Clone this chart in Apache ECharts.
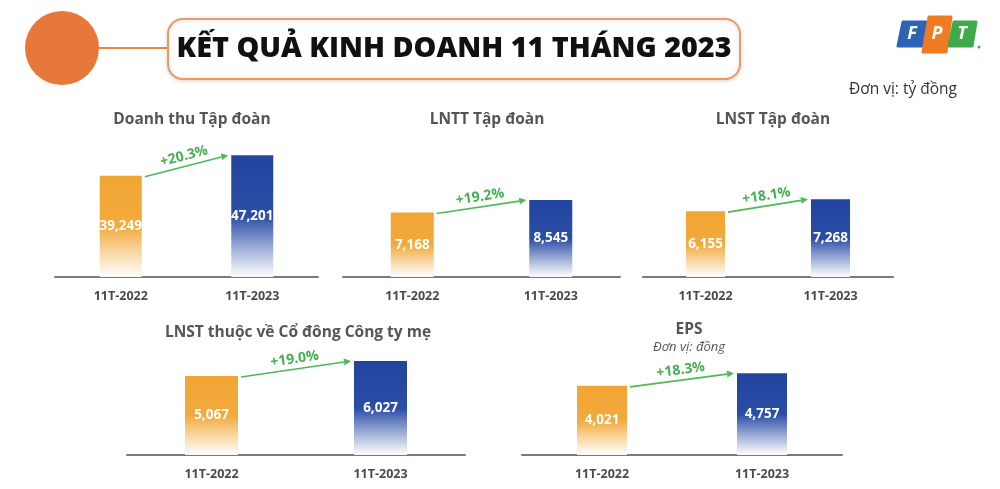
<!DOCTYPE html>
<html>
<head>
<meta charset="utf-8">
<script src="https://cdn.jsdelivr.net/npm/echarts@6/dist/echarts.min.js"></script>
<style>
html,body{margin:0;padding:0;background:#fff;}
#c{width:1000px;height:489px;}
</style>
</head>
<body>
<div id="c"></div>
<script>
// ---- DATA ----
const categories = ['11T-2022', '11T-2023'];
const panelTitles = ['Doanh thu Tập đoàn', 'LNTT Tập đoàn', 'LNST Tập đoàn', 'LNST thuộc về Cổ đông Công ty mẹ', 'EPS'];
const revenue = [39249, 47201];
const profitBeforeTax = [7168, 8545];
const profitAfterTax = [6155, 7268];
const profitParent = [5067, 6027];
const eps = [4021, 4757];
const growthLabels = ['+20.3%', '+19.2%', '+18.1%', '+19.0%', '+18.3%'];
const mainTitle = 'KẾT QUẢ KINH DOANH 11 THÁNG 2023';
const unitText = 'Đơn vị: tỷ đồng';
const epsUnitText = 'Đơn vị: đồng';

// ---- LAYOUT ----
const seriesValues = [revenue, profitBeforeTax, profitAfterTax, profitParent, eps];
const panels = [
  {left: 55, width: 263, axisY: 277, yMax: 50000, pxPerUnit: 0.00258, barWidth: 42, titleX: 187, titleY: 107},
  {left: 343, width: 277, axisY: 277, yMax: 10000, pxPerUnit: 0.0090, barWidth: 43, titleX: 482, titleY: 107},
  {left: 643, width: 250, axisY: 277, yMax: 8000, pxPerUnit: 0.0107, barWidth: 39, titleX: 768, titleY: 107},
  {left: 127, width: 338, axisY: 455, yMax: 6200, pxPerUnit: 0.0156, barWidth: 53, titleX: 293, titleY: 320},
  {left: 522, width: 320, axisY: 455, yMax: 5000, pxPerUnit: 0.0172, barWidth: 50, titleX: 684, titleY: 317}
];

const orangeGrad = new echarts.graphic.LinearGradient(0, 0, 0, 1, [
  {offset: 0, color: '#F1A533'}, {offset: 0.5, color: '#F2AA3C'},
  {offset: 1, color: 'rgba(255,255,255,0.95)'}]);
const blueGrad = new echarts.graphic.LinearGradient(0, 0, 0, 1, [
  {offset: 0, color: '#21449E'}, {offset: 0.5, color: '#2A4DA6'},
  {offset: 1, color: 'rgba(255,255,255,0.95)'}]);

const grids = [], xAxes = [], yAxes = [], series = [], titles = [];
panels.forEach((p, i) => {
  const h = p.yMax * p.pxPerUnit;
  grids.push({left: p.left, width: p.width, top: p.axisY - h, height: h});
  xAxes.push({
    type: 'category', gridIndex: i, data: categories,
    axisLine: {lineStyle: {color: '#7a7a7a', width: 2}},
    axisTick: {show: false},
    axisLabel: {color: '#4a4a4a', fontWeight: 'bold', fontSize: 12.5, margin: 13, fontFamily: 'Open Sans'}
  });
  yAxes.push({type: 'value', gridIndex: i, min: 0, max: p.yMax, show: false, splitLine: {show: false}});
  const vals = seriesValues[i];
  series.push({
    type: 'bar', xAxisIndex: i, yAxisIndex: i, barWidth: p.barWidth,
    data: vals.map((v, k) => ({value: v, itemStyle: {color: k === 0 ? orangeGrad : blueGrad}})),
    label: {show: true, position: 'inside', color: '#fff', fontWeight: 'bold', fontSize: 13.5,
      fontFamily: 'Open Sans', formatter: d => d.value.toLocaleString('en-US')}
  });
  series.push({
    type: 'custom', xAxisIndex: i, yAxisIndex: i, clip: false, silent: true,
    data: [[vals[0], vals[1]]],
    renderItem: (params, api) => {
      const a = api.coord([0, api.value(0)]);
      const b = api.coord([1, api.value(1)]);
      const hb = p.barWidth / 2;
      const s = [a[0] + hb + 3, a[1] + 1];
      const e = [b[0] - hb - 3, b[1]];
      const ang = Math.atan2(e[1] - s[1], e[0] - s[0]);
      const L = 7, W = 3.5;
      const bx = e[0] - L * Math.cos(ang), by = e[1] - L * Math.sin(ang);
      const nx = -Math.sin(ang), ny = Math.cos(ang);
      const mx = (s[0] + e[0]) / 2, my = (s[1] + e[1]) / 2;
      return {
        type: 'group',
        children: [
          {type: 'line', shape: {x1: s[0], y1: s[1], x2: bx, y2: by},
            style: {stroke: '#4DB95A', lineWidth: 1.6}},
          {type: 'polygon', shape: {points: [e, [bx + nx * W, by + ny * W], [bx - nx * W, by - ny * W]]},
            style: {fill: '#4DB95A'}},
          {type: 'text', x: mx - nx * 10, y: my - ny * 10, rotation: -ang,
            style: {text: growthLabels[i], fill: '#45AE52', font: 'bold 14px "Open Sans"',
              textAlign: 'center', textVerticalAlign: 'middle'}}
        ]
      };
    }
  });
  titles.push({
    text: panelTitles[i], left: p.titleX, top: p.titleY, textAlign: 'center',
    textStyle: {color: '#555', fontSize: 15.5, fontWeight: 'bold', fontFamily: 'Open Sans'}
  });
});
titles.push({
  text: epsUnitText, left: 684, top: 336, textAlign: 'center',
  textStyle: {color: '#555', fontSize: 13, fontStyle: 'italic', fontWeight: 'normal', fontFamily: 'Open Sans'}
});

const logoFont = 'italic bold 18px "Open Sans"';
const graphic = [
  {type: 'line', shape: {x1: 95, y1: 48, x2: 170, y2: 48}, style: {stroke: '#E8894A', lineWidth: 2}},
  {type: 'circle', shape: {cx: 62, cy: 48, r: 37}, style: {fill: '#E8773A'}},
  {type: 'rect', shape: {x: 168, y: 19, width: 572, height: 60, r: 15},
    style: {fill: '#fff', stroke: '#EC9A5E', lineWidth: 2, shadowBlur: 4, shadowColor: 'rgba(0,0,0,0.15)', shadowOffsetY: 1}},
  {type: 'text', x: 454, y: 49, style: {text: mainTitle, fill: '#111', font: '800 29px "Open Sans"',
    textAlign: 'center', textVerticalAlign: 'middle'}, scaleX: 0.99},
  // FPT logo
  {type: 'polygon', shape: {points: [[903, 22], [926, 22], [922, 46], [898, 46]]}, style: {fill: '#2C64B6', lineJoin: 'round', stroke: '#2C64B6', lineWidth: 3}},
  {type: 'polygon', shape: {points: [[929, 17], [951, 17], [946, 52], [923, 52]]}, style: {fill: '#F07B22', lineJoin: 'round', stroke: '#F07B22', lineWidth: 3}},
  {type: 'polygon', shape: {points: [[954, 22], [976, 22], [972, 46], [949, 46]]}, style: {fill: '#3FAA4B', lineJoin: 'round', stroke: '#3FAA4B', lineWidth: 3}},
  {type: 'text', x: 912, y: 34, style: {text: 'F', fill: '#fff', font: logoFont, textAlign: 'center', textVerticalAlign: 'middle'}},
  {type: 'text', x: 937, y: 34, style: {text: 'P', fill: '#fff', font: logoFont, textAlign: 'center', textVerticalAlign: 'middle'}},
  {type: 'text', x: 962, y: 34, style: {text: 'T', fill: '#fff', font: logoFont, textAlign: 'center', textVerticalAlign: 'middle'}},
  {type: 'circle', shape: {cx: 979, cy: 47, r: 1.5}, style: {fill: '#3FAA4B'}},
  {type: 'text', x: 903, y: 90, style: {text: unitText, fill: '#333', font: '15.5px "Open Sans"', textAlign: 'center', textVerticalAlign: 'middle'}}
];

const chart = echarts.init(document.getElementById('c'));
chart.setOption({
  backgroundColor: '#fff',
  animation: false,
  title: titles,
  grid: grids,
  xAxis: xAxes,
  yAxis: yAxes,
  series: series,
  graphic: graphic
});
</script>
</body>
</html>
